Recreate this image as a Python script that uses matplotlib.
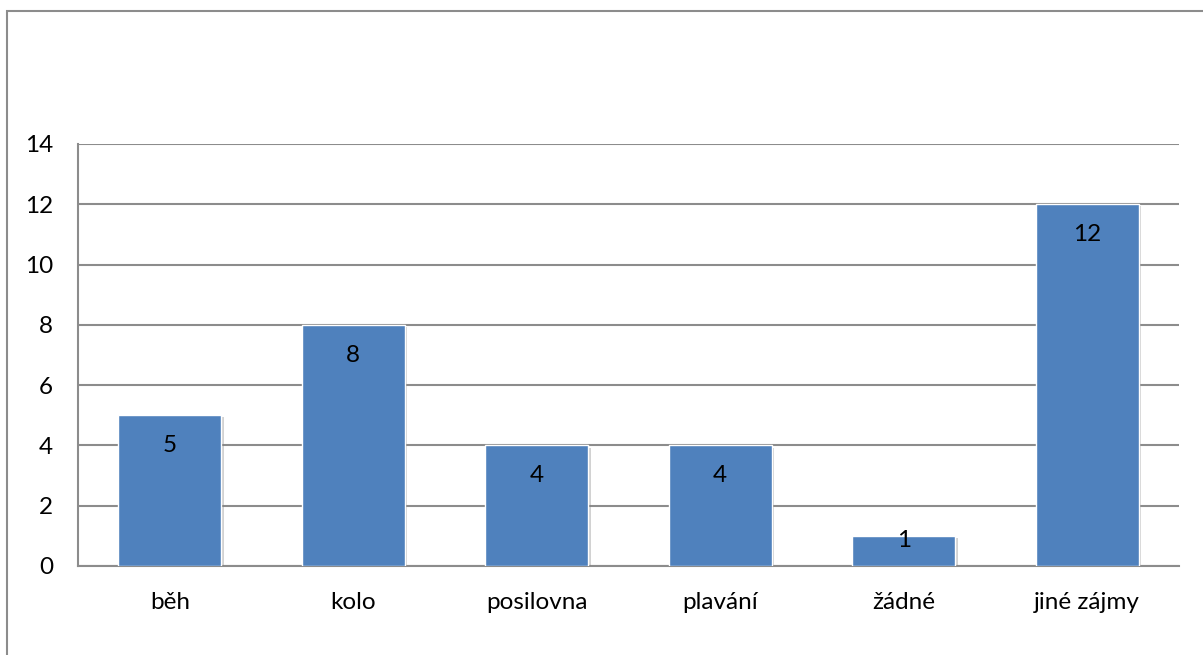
import matplotlib
matplotlib.use("Agg")
import matplotlib.pyplot as plt
from matplotlib import patheffects as pe
from matplotlib.patches import Rectangle

categories = ["běh", "kolo", "posilovna", "plavání", "žádné", "jiné zájmy"]
values = [5, 8, 4, 4, 1, 12]
y_ticks = [0, 2, 4, 6, 8, 10, 12, 14]

W, H = 1203, 655
fig = plt.figure(figsize=(W / 100, H / 100), dpi=100)
plt.rcParams["font.family"] = ["Lato", "DejaVu Sans"]
FS = 17.5

# outer chart frame (only top and left edges fall inside the canvas)
fig.add_artist(Rectangle((7 / W, -0.1), 1.2, 1 - 11 / H + 0.1,
                         transform=fig.transFigure, fill=False,
                         edgecolor="#8c8c8c", linewidth=1.5))

left, right, top, bottom = 78, 1179, 144, 566
ax = fig.add_axes([left / W, 1 - bottom / H, (right - left) / W, (bottom - top) / H])

x = list(range(len(categories)))
bars = ax.bar(x, values, width=0.56, color="#4F81BD", edgecolor="white",
              linewidth=1.0, zorder=3)
for b in bars:
    b.set_path_effects([pe.SimplePatchShadow(offset=(2, -1.5), shadow_rgbFace="#7f7f7f",
                                              alpha=0.35), pe.Normal()])

for xi, v in zip(x, values):
    y = v - 1.0 if v - 1.0 > 0.5 else v * 0.83
    ax.text(xi, y, str(v), ha="center", va="center", fontsize=FS,
            color="black", zorder=4)

ax.set_xlim(-0.5, len(categories) - 0.5)
ax.set_ylim(0, 14)
ax.set_yticks(y_ticks)
ax.set_xticks(x)
ax.set_xticklabels(categories)
ax.tick_params(axis="both", length=0, labelsize=FS)
ax.tick_params(axis="y", pad=18)
ax.tick_params(axis="x", pad=19)
ax.grid(axis="y", color="#8c8c8c", linewidth=1.5, zorder=1)
for s in ["top", "right"]:
    ax.spines[s].set_visible(False)
for s in ["left", "bottom"]:
    ax.spines[s].set_color("#8c8c8c")
    ax.spines[s].set_linewidth(1.5)

fig.savefig("out.png", dpi=100)
